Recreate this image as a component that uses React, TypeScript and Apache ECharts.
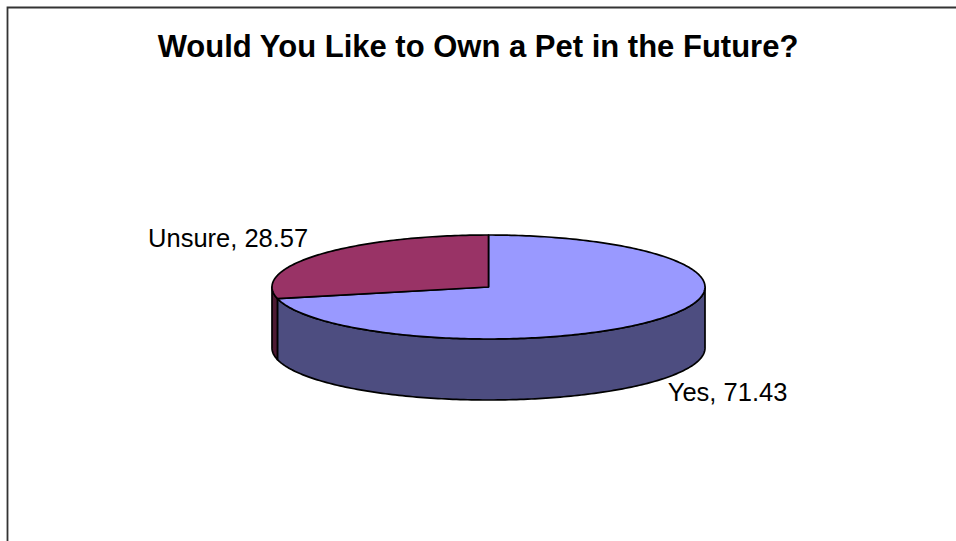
import React, { useEffect, useRef } from 'react';
import * as echarts from 'echarts';

const categories = ['Yes', 'Unsure'];
const values = [71.43, 28.57];
const topColors = ['#9999FF', '#993366'];
const sideColors = ['#4D4D80', '#4D1A33'];
const titleText = 'Would You Like to Own a Pet in the Future?';

const CX = 488.5;
const CY = 287;
const RX = 216.5;
const RY = 52;
const DEPTH = 61;

function pt(deg: number, dy = 0): number[] {
  const t = (deg * Math.PI) / 180;
  return [CX + RX * Math.cos(t), CY - RY * Math.sin(t) + dy];
}

export default function App() {
  const ref = useRef<HTMLDivElement>(null);
  useEffect(() => {
    const chart = echarts.init(ref.current as HTMLDivElement, null, { renderer: 'svg' });
    const total = values.reduce((a, b) => a + b, 0);
    const starts: number[] = [];
    let acc = 0;
    values.forEach((v) => {
      starts.push(acc);
      acc += v;
    });

    const renderItem = (params: any, api: any) => {
      const i = params.dataIndex;
      const v = api.value(0);
      const a1 = 90 - (starts[i] / total) * 360;
      const a0 = a1 - (v / total) * 360;
      const children: any[] = [];
      // side walls (front half only)
      for (let k = -2; k <= 2; k++) {
        const lo = Math.max(a0, -180 + 360 * k);
        const hi = Math.min(a1, 360 * k);
        if (hi - lo > 0.01) {
          const n = Math.max(2, Math.ceil(hi - lo));
          const pts: number[][] = [];
          for (let j = 0; j <= n; j++) pts.push(pt(lo + ((hi - lo) * j) / n));
          for (let j = n; j >= 0; j--) pts.push(pt(lo + ((hi - lo) * j) / n, DEPTH));
          children.push({
            type: 'polygon',
            z2: 1,
            shape: { points: pts },
            style: { fill: sideColors[i], stroke: '#000', lineWidth: 1.7, lineJoin: 'round' },
          });
        }
      }
      // top face
      const topPts: number[][] = [[CX, CY]];
      const n = Math.max(2, Math.ceil(a1 - a0));
      for (let j = 0; j <= n; j++) topPts.push(pt(a0 + ((a1 - a0) * j) / n));
      children.push({
        type: 'polygon',
        z2: 10,
        shape: { points: topPts },
        style: { fill: topColors[i], stroke: '#000', lineWidth: 1.7, lineJoin: 'round' },
      });
      // label
      const m = (a0 + a1) / 2;
      const t = (m * Math.PI) / 180;
      const c = Math.cos(t);
      const s = Math.sin(t);
      const front = s < 0;
      const anchor = pt(m, front ? DEPTH : 0);
      children.push({
        type: 'text',
        z2: 20,
        x: anchor[0] + (c >= 0 ? 10 : -11),
        y: anchor[1] + (front ? 12 : -16.5),
        style: {
          text: categories[i] + ', ' + values[i].toFixed(2),
          fill: '#000',
          font: '25.5px "Liberation Sans", Arial, sans-serif',
          align: c >= 0 ? 'left' : 'right',
          verticalAlign: 'middle',
        },
      });
      return { type: 'group', children };
    };

    chart.setOption({
      animation: false,
      backgroundColor: '#fff',
      title: {
        text: titleText,
        left: 'center',
        top: 31,
        padding: 0,
        textStyle: {
          fontFamily: '"Liberation Sans", Arial, sans-serif',
          fontWeight: 'bold',
          fontSize: 31,
          color: '#000',
        },
      },
      graphic: [
        {
          type: 'rect',
          shape: { x: 7.5, y: 7.5, width: 1200, height: 1200 },
          style: { fill: 'none', stroke: '#333', lineWidth: 1.8 },
          silent: true,
        },
      ],
      series: [
        {
          type: 'custom',
          coordinateSystem: 'none',
          renderItem,
          data: values.map((v, i) => ({ name: categories[i], value: [v] })),
        },
      ],
    });
    return () => chart.dispose();
  }, []);
  return (
    <div
      ref={ref}
      style={{ position: 'absolute', left: 0, top: 0, width: 956, height: 541 }}
    />
  );
}
